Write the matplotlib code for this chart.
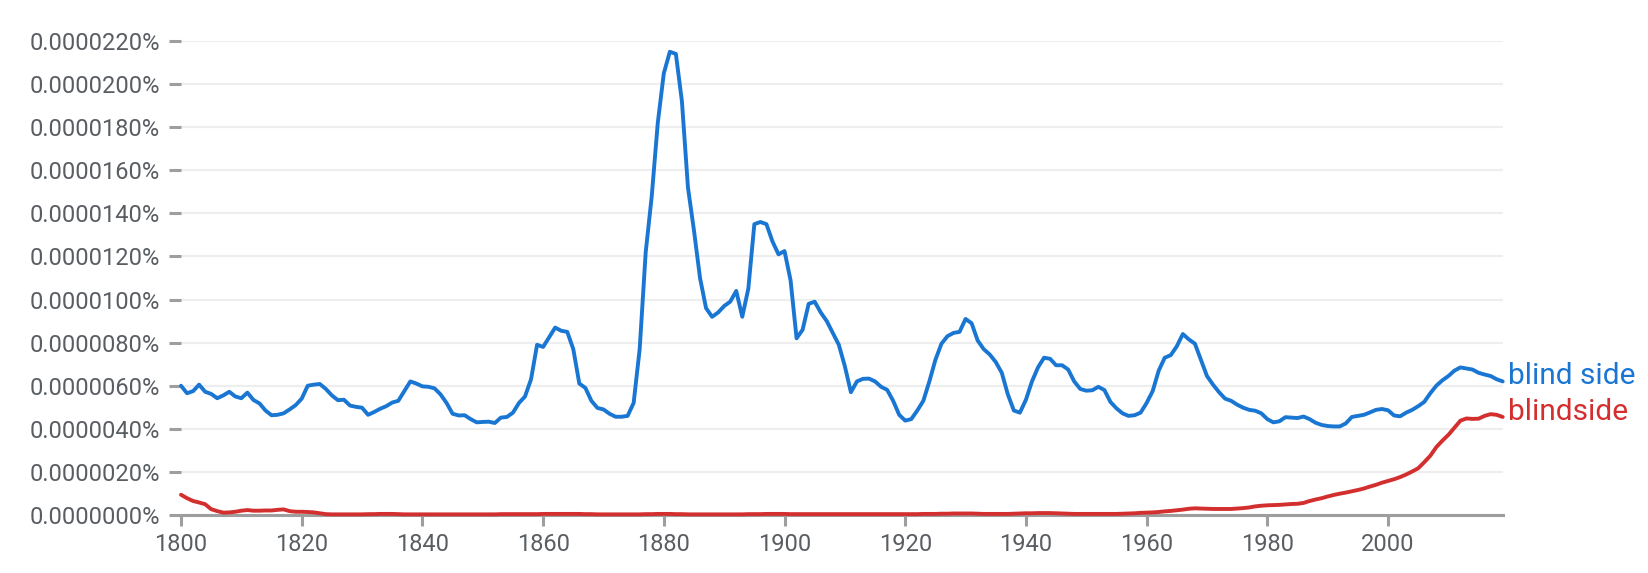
import numpy as np
import matplotlib
matplotlib.use("Agg")
import matplotlib.pyplot as plt
from matplotlib.ticker import FuncFormatter, MultipleLocator

# years shown in the ngram view
years = np.arange(1800, 2020)

# values in units of 1e-6 % (0.0000060% -> 6.0)
blind_side = [
    6.0, 5.65, 5.75, 6.05, 5.72, 5.62, 5.42, 5.55, 5.72, 5.5,        # 1800s
    5.42, 5.68, 5.34, 5.18, 4.85, 4.63, 4.65, 4.72, 4.9, 5.1,        # 1810s
    5.4, 6.0, 6.05, 6.08, 5.85, 5.55, 5.33, 5.35, 5.08, 5.02,        # 1820s
    4.98, 4.65, 4.78, 4.93, 5.05, 5.22, 5.3, 5.75, 6.2, 6.1,         # 1830s
    5.97, 5.95, 5.88, 5.6, 5.2, 4.7, 4.62, 4.63, 4.45, 4.3,          # 1840s
    4.32, 4.33, 4.27, 4.52, 4.55, 4.75, 5.2, 5.5, 6.3, 7.9,          # 1850s
    7.8, 8.25, 8.7, 8.55, 8.5, 7.7, 6.1, 5.9, 5.3, 4.97,             # 1860s
    4.9, 4.7, 4.56, 4.56, 4.6, 5.2, 7.7, 12.2, 14.8, 18.2,           # 1870s
    20.5, 21.5, 21.4, 19.2, 15.2, 13.2, 11.0, 9.6, 9.2, 9.4,         # 1880s
    9.7, 9.9, 10.4, 9.2, 10.5, 13.5, 13.6, 13.5, 12.7, 12.1,         # 1890s
    12.25, 10.9, 8.2, 8.6, 9.8, 9.9, 9.4, 9.0, 8.45, 7.9,            # 1900s
    6.9, 5.7, 6.2, 6.32, 6.33, 6.2, 5.95, 5.81, 5.3, 4.65,           # 1910s
    4.38, 4.45, 4.85, 5.3, 6.2, 7.2, 7.95, 8.3, 8.45, 8.5,           # 1920s
    9.1, 8.9, 8.1, 7.7, 7.45, 7.1, 6.6, 5.6, 4.85, 4.75,             # 1930s
    5.35, 6.2, 6.85, 7.3, 7.25, 6.95, 6.95, 6.75, 6.2, 5.85,         # 1940s
    5.77, 5.79, 5.95, 5.8, 5.25, 4.95, 4.72, 4.6, 4.63, 4.75,        # 1950s
    5.2, 5.75, 6.7, 7.3, 7.42, 7.83, 8.4, 8.15, 7.95, 7.2,           # 1960s
    6.45, 6.05, 5.7, 5.4, 5.3, 5.12, 4.98, 4.88, 4.84, 4.72,         # 1970s
    4.45, 4.3, 4.35, 4.54, 4.52, 4.5, 4.57, 4.45, 4.28, 4.18,        # 1980s
    4.13, 4.11, 4.11, 4.25, 4.55, 4.6, 4.65, 4.76, 4.88, 4.92,       # 1990s
    4.86, 4.62, 4.58, 4.75, 4.88, 5.05, 5.25, 5.65, 6.0, 6.25,       # 2000s
    6.45, 6.7, 6.85, 6.8, 6.75, 6.6, 6.52, 6.45, 6.3, 6.2,           # 2010s
]

blindside = [
    0.94, 0.78, 0.65, 0.58, 0.5, 0.27, 0.18, 0.11, 0.12, 0.15,       # 1800s
    0.2, 0.23, 0.2, 0.2, 0.21, 0.21, 0.24, 0.26, 0.18, 0.15,         # 1810s
    0.15, 0.14, 0.12, 0.08, 0.04, 0.03, 0.03, 0.03, 0.03, 0.03,      # 1820s
    0.03, 0.04, 0.04, 0.05, 0.05, 0.05, 0.04, 0.03, 0.03, 0.03,      # 1830s
    0.03, 0.03, 0.03, 0.03, 0.03, 0.03, 0.03, 0.03, 0.03, 0.03,      # 1840s
    0.03, 0.03, 0.03, 0.04, 0.04, 0.04, 0.04, 0.04, 0.04, 0.04,      # 1850s
    0.05, 0.05, 0.05, 0.05, 0.05, 0.05, 0.05, 0.04, 0.04, 0.03,      # 1860s
    0.03, 0.03, 0.03, 0.03, 0.03, 0.03, 0.03, 0.04, 0.04, 0.05,      # 1870s
    0.05, 0.05, 0.04, 0.04, 0.03, 0.03, 0.03, 0.03, 0.03, 0.03,      # 1880s
    0.03, 0.03, 0.03, 0.03, 0.04, 0.04, 0.04, 0.05, 0.05, 0.05,      # 1890s
    0.05, 0.04, 0.04, 0.04, 0.04, 0.04, 0.04, 0.04, 0.04, 0.04,      # 1900s
    0.04, 0.04, 0.04, 0.04, 0.04, 0.04, 0.04, 0.04, 0.04, 0.04,      # 1910s
    0.04, 0.04, 0.04, 0.05, 0.05, 0.05, 0.06, 0.06, 0.07, 0.07,      # 1920s
    0.07, 0.07, 0.06, 0.05, 0.05, 0.05, 0.05, 0.05, 0.06, 0.07,      # 1930s
    0.08, 0.08, 0.09, 0.09, 0.09, 0.08, 0.07, 0.06, 0.05, 0.05,      # 1940s
    0.05, 0.05, 0.05, 0.05, 0.05, 0.05, 0.06, 0.07, 0.08, 0.1,       # 1950s
    0.11, 0.12, 0.14, 0.17, 0.19, 0.22, 0.25, 0.29, 0.31, 0.3,       # 1960s
    0.29, 0.28, 0.28, 0.28, 0.28, 0.3, 0.32, 0.35, 0.4, 0.43,        # 1970s
    0.45, 0.46, 0.47, 0.49, 0.51, 0.52, 0.56, 0.65, 0.72, 0.78,      # 1980s
    0.86, 0.93, 0.99, 1.04, 1.1, 1.16, 1.23, 1.32, 1.4, 1.5,         # 1990s
    1.58, 1.66, 1.76, 1.88, 2.02, 2.17, 2.45, 2.75, 3.15, 3.45,      # 2000s
    3.72, 4.05, 4.38, 4.48, 4.46, 4.47, 4.6, 4.68, 4.65, 4.55,       # 2010s
]

series_names = ["blind side", "blindside"]
series_colors = ["#1976D2", "#D32F2F"]
x_ticks = list(range(1800, 2001, 20))

plt.rcParams['font.family'] = ['Roboto', 'DejaVu Sans']

fig = plt.figure(figsize=(16.49, 5.73), dpi=100)
ax = fig.add_axes([181 / 1649, 1 - 515 / 573, (1502.7 - 181) / 1649, (515 - 41) / 573])

for vals, name, col in zip([blind_side, blindside], series_names, series_colors):
    y = np.array(vals) * 1e-6  # percent
    ax.plot(years, y, color=col, lw=2.8, solid_joinstyle='round',
            solid_capstyle='round', clip_on=False, zorder=3)
    ax.annotate(name, xy=(years[-1], y[-1]), xytext=(4, -2),
                textcoords='offset points', color=col, fontsize=21.5,
                va='baseline', ha='left', annotation_clip=False)

ax.set_xlim(1800, 2019)
ax.set_ylim(0, 22e-6)
ax.yaxis.set_major_locator(MultipleLocator(2e-6))
ax.set_xticks(x_ticks)
ax.yaxis.set_major_formatter(FuncFormatter(lambda v, p: f"{v:.7f}%"))

ax.grid(axis='y', color='#eeeeee', lw=1.6, zorder=0)
ax.set_axisbelow(True)
for s in ['top', 'right', 'left']:
    ax.spines[s].set_visible(False)
ax.spines['bottom'].set_color('#9e9e9e')
ax.spines['bottom'].set_linewidth(2.2)
ax.spines['bottom'].set_zorder(2)

ax.tick_params(axis='y', length=9, width=2.2, color='#9e9e9e', pad=6,
               labelsize=17, labelcolor='#5a5e63')
ax.tick_params(axis='x', length=8, width=2.2, color='#9e9e9e', pad=5,
               labelsize=17, labelcolor='#5a5e63')

fig.savefig("out.png", dpi=100)
